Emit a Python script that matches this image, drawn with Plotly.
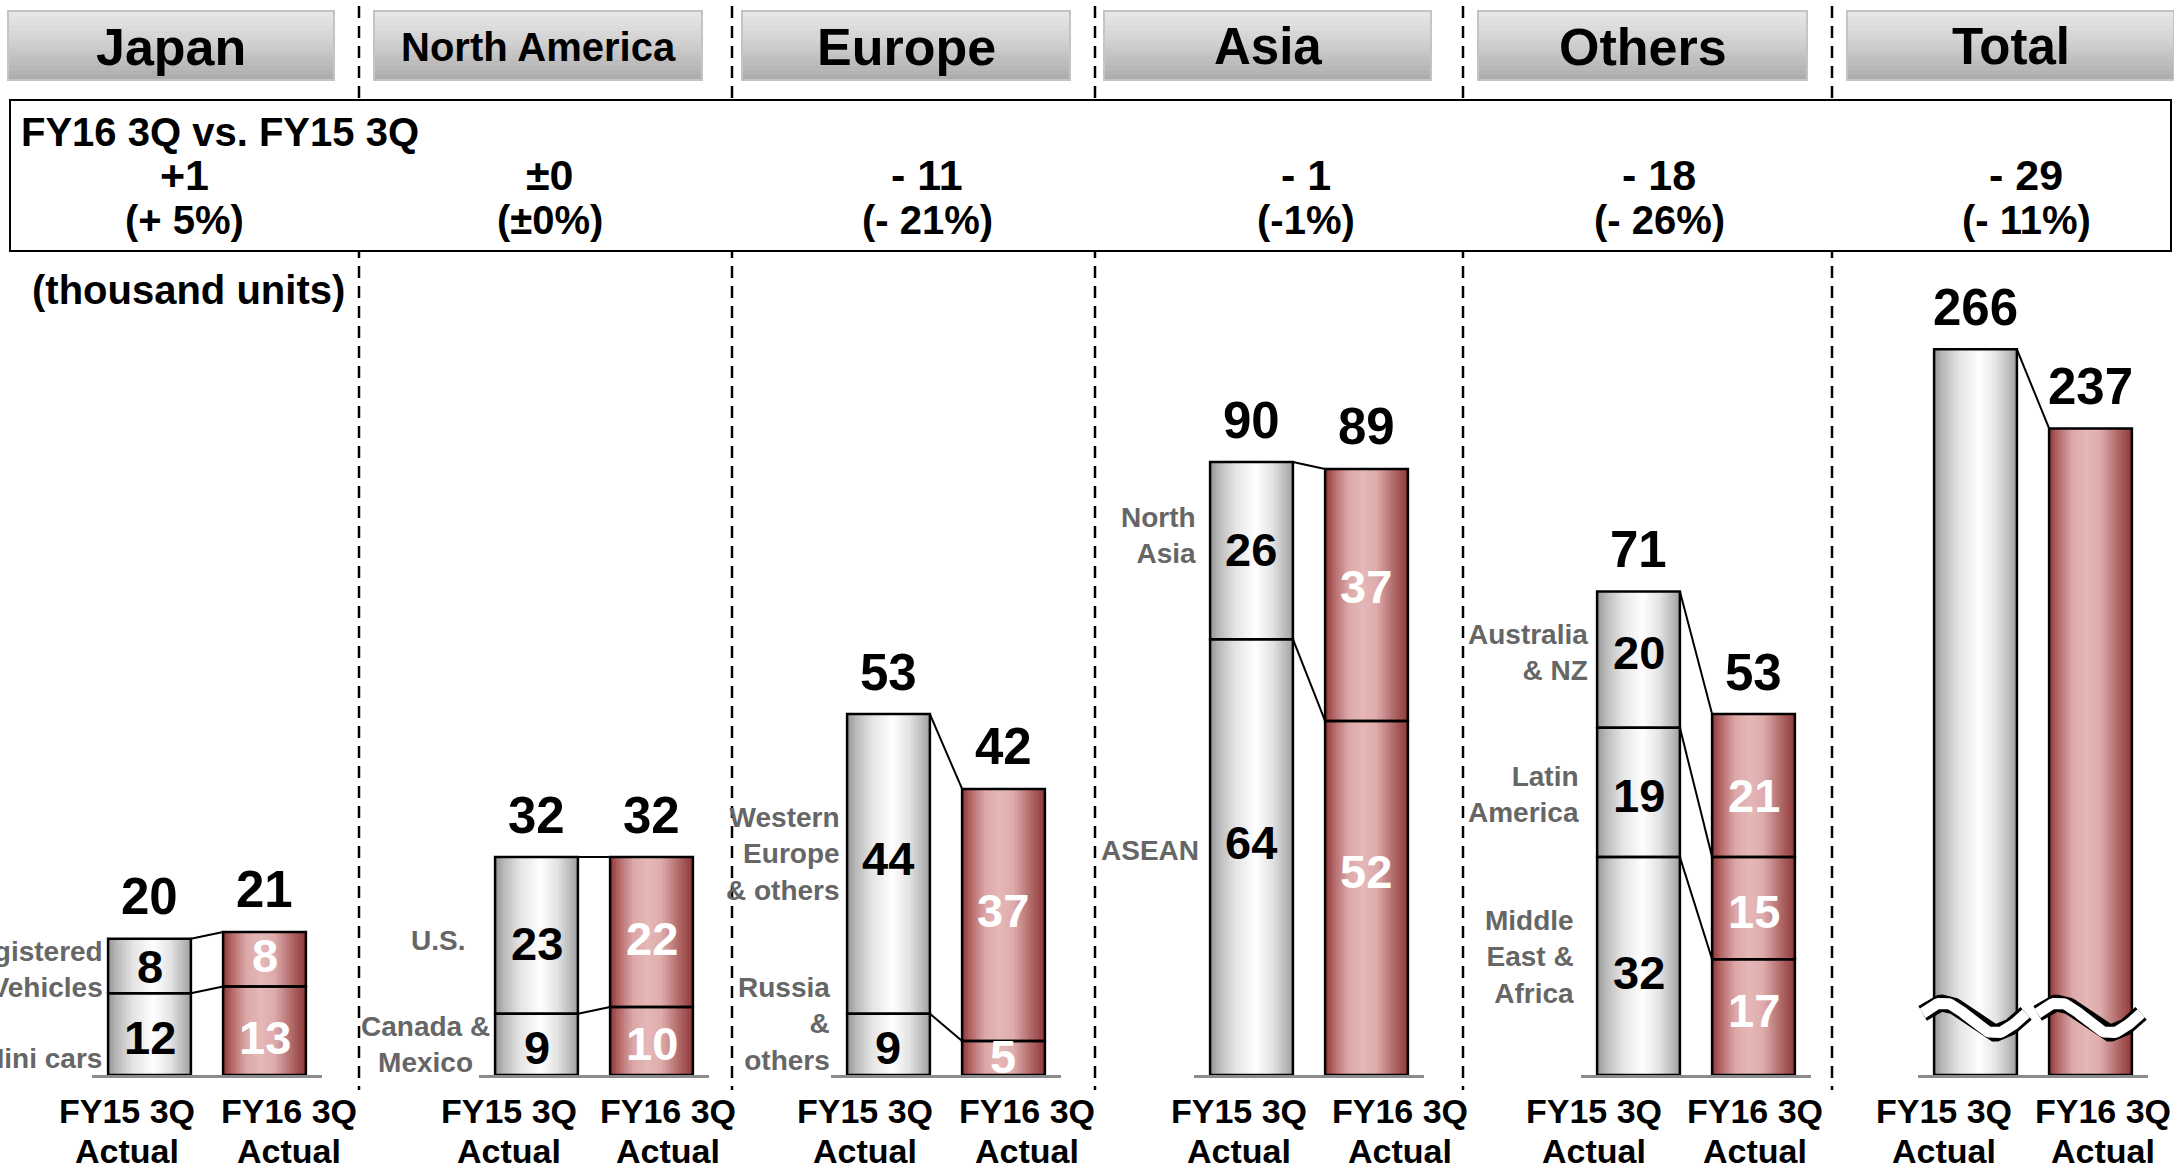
import numpy as np
import plotly.graph_objects as go

# ---------------- data ----------------
periods = ["FY15 3Q", "FY16 3Q"]
regions = ["Japan", "North America", "Europe", "Asia", "Others", "Total"]

# segment values, listed bottom -> top
japan_fy15 = [12, 8]
japan_fy16 = [13, 8]
japan_segments = ["Mini cars", "Registered<br>Vehicles"]

na_fy15 = [9, 23]
na_fy16 = [10, 22]
na_segments = ["Canada &<br>Mexico", "U.S."]

europe_fy15 = [9, 44]
europe_fy16 = [5, 37]
europe_segments = ["Russia<br>&<br>others", "Western<br>Europe<br>& others"]

asia_fy15 = [64, 26]
asia_fy16 = [52, 37]
asia_segments = ["ASEAN", "North<br>Asia"]

others_fy15 = [32, 19, 20]
others_fy16 = [17, 15, 21]
others_segments = ["Middle<br>East &<br>Africa", "Latin<br>America", "Australia<br>& NZ"]

total_fy15 = [266]
total_fy16 = [237]

diff_labels = ["+1", "±0", "- 11", "- 1", "- 18", "- 29"]
pct_labels = ["(+ 5%)", "(±0%)", "(- 21%)", "(-1%)", "(- 26%)", "(- 11%)"]

# ---------------- layout constants (pixels) ----------------
W, H = 2174, 1168
FONT = "Liberation Sans, Arial, sans-serif"
BASE_PX = 1075
SCALE_REGION = 6.81
SCALE_TOTAL = 2.728
BAR_W = 0.72
X_DOMAINS = [(92, 322), (479, 709), (831, 1061), (1194, 1424), (1581, 1811), (1918, 2148)]
HEADER_BOXES = [(8, 334), (374, 702), (742, 1070), (1104, 1431), (1478, 1807), (1847, 2174)]
HEADER_SIZES = [52, 40, 52, 51, 52, 51]
SUMMARY_X = [184, 550, 927, 1306, 1659, 2026]
DIVIDERS = [359, 732, 1095, 1463, 1832]
TICK_X = [(127, 289), (509, 668), (865, 1027), (1239, 1400), (1594, 1755), (1944, 2103)]
LABEL_SHIFT = {  # (xgap, yshift) per side label
    ("Japan", 0): (4, -24), ("Japan", 1): (3, -3),
    ("North America", 0): (3, 0), ("North America", 1): (28, -5),
    ("Europe", 0): (15, 20), ("Europe", 1): (5, 10),
    ("Asia", 0): (9, 7), ("Asia", 1): (12, 15),
    ("Others", 0): (21, 9), ("Others", 1): (16, -2), ("Others", 2): (7, 7),
}
VALUE_SHIFT = {  # vertical pixel nudges of in-bar value labels: FY15 list, FY16 list
    "Japan": ([-3, 0], [-7, 4]),
    "North America": ([-3, -8], [-3, -7]),
    "Europe": ([-3, 5], [1, 4]),
    "Asia": ([15, 1], [26, 8]),
    "Others": ([-6, -3, 7], [7, -3, -10]),
}

def px(x):
    return x / W

def py(y):
    return 1 - y / H

def interp(stops, t):
    for (t0, c0), (t1, c1) in zip(stops[:-1], stops[1:]):
        if t0 <= t <= t1:
            f = (t - t0) / (t1 - t0) if t1 > t0 else 0
            c = [round(a + (b - a) * f) for a, b in zip(c0, c1)]
            return "rgb(%d,%d,%d)" % tuple(c)
    c = stops[-1][1]
    return "rgb(%d,%d,%d)" % tuple(c)

GRAY = [(0, (150, 150, 150)), (0.1, (183, 183, 183)), (0.3, (228, 228, 228)),
        (0.55, (254, 254, 254)), (0.75, (228, 228, 228)), (0.92, (183, 183, 183)), (1, (158, 158, 158))]
RED = [(0, (142, 52, 52)), (0.1, (178, 102, 102)), (0.28, (220, 168, 168)), (0.45, (229, 183, 183)),
       (0.62, (222, 172, 172)), (0.82, (178, 108, 108)), (1, (145, 55, 55))]

fig = go.Figure()

series = [
    ("Japan", japan_fy15, japan_fy16, japan_segments),
    ("North America", na_fy15, na_fy16, na_segments),
    ("Europe", europe_fy15, europe_fy16, europe_segments),
    ("Asia", asia_fy15, asia_fy16, asia_segments),
    ("Others", others_fy15, others_fy16, others_segments),
    ("Total", total_fy15, total_fy16, None),
]

N = 30
annotations = []
shapes = []

for r, (name, a, b, segs) in enumerate(series):
    xa = "x" if r == 0 else "x%d" % (r + 1)
    ya = "y2" if name == "Total" else "y"
    tot_a, tot_b = sum(a), sum(b)
    # gradient strips (vertical slices of each bar)
    for k in range(N):
        off = -BAR_W / 2 + k * BAR_W / N
        w = min(BAR_W / N * 1.8, BAR_W / 2 - off)
        t = (k + 0.5) / N
        fig.add_trace(go.Bar(x=[0, 1], y=[tot_a, tot_b], width=w, offset=off,
                             marker=dict(color=[interp(GRAY, t), interp(RED, t)], line=dict(width=0)),
                             xaxis=xa, yaxis=ya, hoverinfo="skip", showlegend=False))
    # outlines of stacked segments
    xs = [0] * len(a) + [1] * len(b)
    bases = list(np.concatenate([[0], np.cumsum(a)[:-1]])) + list(np.concatenate([[0], np.cumsum(b)[:-1]]))
    fig.add_trace(go.Bar(x=xs, y=a + b, base=bases, width=BAR_W, offset=-BAR_W / 2,
                         marker=dict(color="rgba(0,0,0,0)", line=dict(color="black", width=2.5)),
                         xaxis=xa, yaxis=ya, hoverinfo="skip", showlegend=False))
    # connectors between segment boundaries
    ca, cb = np.cumsum(a), np.cumsum(b)
    cx, cy = [], []
    for i in range(len(a)):
        cx += [BAR_W / 2, 1 - BAR_W / 2, None]
        cy += [ca[i], cb[i], None]
    fig.add_trace(go.Scatter(x=cx, y=cy, mode="lines", line=dict(color="black", width=2),
                             xaxis=xa, yaxis=ya, hoverinfo="skip", showlegend=False))
    # segment values and side labels
    if segs is not None:
        mids_a = [c - v / 2 for c, v in zip(ca, a)]
        mids_b = [c - v / 2 for c, v in zip(cb, b)]
        sa, sb = VALUE_SHIFT[name]
        for j, (mids, vals, shifts, col) in enumerate([(mids_a, a, sa, "black"), (mids_b, b, sb, "white")]):
            for m, v, s in zip(mids, vals, shifts):
                annotations.append(dict(x=j, y=m, xref=xa, yref=ya, text=str(v), showarrow=False,
                                        xanchor="center", yanchor="middle", yshift=s,
                                        font=dict(family=FONT, size=47, weight="bold", color=col)))
        for i, lab in enumerate(segs):
            gap, ysh = LABEL_SHIFT[(name, i)]
            annotations.append(dict(x=-BAR_W / 2, y=mids_a[i], xref=xa, yref=ya, text=lab, showarrow=False,
                                    xanchor="right", yanchor="middle", xshift=-gap, yshift=ysh,
                                    align="center" if name == "North America" and i == 0 else "right",
                                    font=dict(family=FONT, size=28, weight="bold", color="#666666")))
    # totals above bars
    for j, tv in enumerate([tot_a, tot_b]):
        annotations.append(dict(x=j, y=tv, xref=xa, yref=ya, text=str(tv), showarrow=False,
                                yanchor="middle", yshift=42,
                                font=dict(family=FONT, size=51, weight="bold", color="black")))
    # period labels under bars
    for j, p in enumerate(periods):
        annotations.append(dict(x=px(TICK_X[r][j]), y=py(1111), xref="paper", yref="paper", text=p,
                                showarrow=False, xanchor="center", yanchor="middle",
                                font=dict(family=FONT, size=34, weight="bold", color="black")))
        annotations.append(dict(x=px(TICK_X[r][j]), y=py(1151), xref="paper", yref="paper", text="Actual",
                                showarrow=False, xanchor="center", yanchor="middle",
                                font=dict(family=FONT, size=34, weight="bold", color="black")))
    # axis-break marks on the total bars (decoration)
    if name == "Total":
        tt = np.linspace(0, 1, 60)
        for j in range(2):
            wx = list(j - 0.46 + tt * 0.90)
            wy = list(20.9 + 5.5 * np.sin(2 * np.pi * (tt + 0.05)))
            fig.add_trace(go.Scatter(x=wx, y=wy, mode="lines", line=dict(color="black", width=17),
                                     xaxis=xa, yaxis=ya, hoverinfo="skip", showlegend=False))
            fig.add_trace(go.Scatter(x=wx, y=wy, mode="lines", line=dict(color="white", width=11),
                                     xaxis=xa, yaxis=ya, hoverinfo="skip", showlegend=False))

# dashed dividers
for xd in DIVIDERS:
    shapes.append(dict(type="line", xref="paper", yref="paper", x0=px(xd), x1=px(xd), y0=py(6), y1=py(1090),
                       line=dict(color="black", width=2.5, dash="12px,8px")))

# header boxes with vertical gradient
HSTOPS = [(0, (232, 232, 232)), (0.5, (206, 206, 206)), (1, (170, 170, 170))]
NH = 14
for (x0, x1), name, fs in zip(HEADER_BOXES, regions, HEADER_SIZES):
    y0, y1 = 11, 80
    for k in range(NH):
        ya0 = y0 + (y1 - y0) * k / NH
        ya1 = y0 + (y1 - y0) * (k + 1) / NH + 0.6
        shapes.append(dict(type="rect", xref="paper", yref="paper", x0=px(x0), x1=px(x1), y0=py(ya0), y1=py(ya1),
                           fillcolor=interp(HSTOPS, (k + 0.5) / NH), line=dict(width=0), layer="below"))
    shapes.append(dict(type="rect", xref="paper", yref="paper", x0=px(x0), x1=px(x1), y0=py(y0), y1=py(y1),
                       line=dict(color="#c4c4c4", width=2), layer="below"))
    annotations.append(dict(x=px((x0 + x1) / 2), y=py(47), xref="paper", yref="paper", text=name,
                            showarrow=False, xanchor="center", yanchor="middle",
                            font=dict(family=FONT, size=fs, weight="bold", color="black")))

# summary box
shapes.append(dict(type="rect", xref="paper", yref="paper", x0=px(10), x1=px(2171), y0=py(100), y1=py(251),
                   fillcolor="white", line=dict(color="black", width=2)))
annotations.append(dict(x=px(19), y=py(132), xref="paper", yref="paper", text="FY16 3Q vs. FY15 3Q",
                        showarrow=False, xanchor="left", yanchor="middle",
                        font=dict(family=FONT, size=40, weight="bold", color="black")))
for xc, d, p in zip(SUMMARY_X, diff_labels, pct_labels):
    annotations.append(dict(x=px(xc), y=py(175), xref="paper", yref="paper", text=d, showarrow=False,
                            xanchor="center", yanchor="middle",
                            font=dict(family=FONT, size=43, weight="bold", color="black")))
    annotations.append(dict(x=px(xc), y=py(220), xref="paper", yref="paper", text=p, showarrow=False,
                            xanchor="center", yanchor="middle",
                            font=dict(family=FONT, size=40, weight="bold", color="black")))
annotations.append(dict(x=px(188), y=py(290), xref="paper", yref="paper", text="(thousand units)",
                        showarrow=False, xanchor="center", yanchor="middle",
                        font=dict(family=FONT, size=40, weight="bold", color="black")))

layout = dict(width=W, height=H, margin=dict(l=0, r=0, t=0, b=0), autosize=False,
              paper_bgcolor="white", plot_bgcolor="rgba(0,0,0,0)", barmode="overlay",
              showlegend=False, annotations=annotations, shapes=shapes)
ydom = [(H - BASE_PX) / H, 1]
for r, (x0, x1) in enumerate(X_DOMAINS):
    key = "xaxis" if r == 0 else "xaxis%d" % (r + 1)
    layout[key] = dict(domain=[px(x0), px(x1)], range=[-0.5, 1.5], showgrid=False, zeroline=False,
                       showticklabels=False, ticks="", showline=True, linecolor="#8c8c8c", linewidth=3,
                       anchor="y2" if r == 5 else "y", fixedrange=True)
layout["yaxis"] = dict(domain=ydom, range=[0, BASE_PX / SCALE_REGION], visible=False, anchor="x", fixedrange=True)
layout["yaxis2"] = dict(domain=ydom, range=[0, BASE_PX / SCALE_TOTAL], visible=False, anchor="x6", fixedrange=True)
fig.update_layout(**layout)
fig.write_html("out.html")
